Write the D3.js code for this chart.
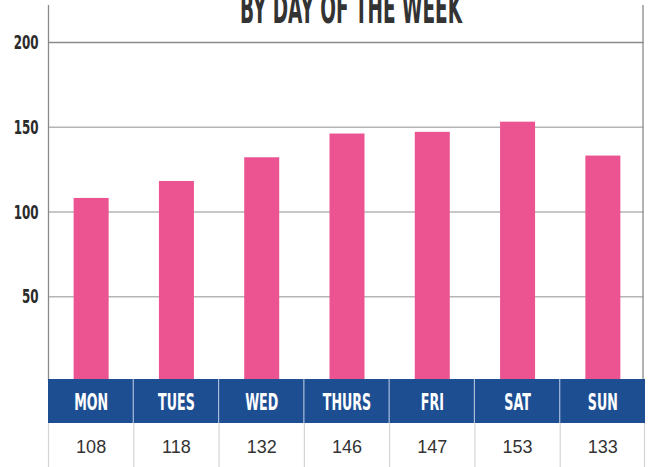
<!DOCTYPE html>
<html>
<head>
<meta charset="utf-8">
<script src="https://cdn.jsdelivr.net/npm/d3@7"></script>
<style>
  body { margin: 0; background: #fff; }
  svg { display: block; }
</style>
</head>
<body>
<script>
const days = ['MON', 'TUES', 'WED', 'THURS', 'FRI', 'SAT', 'SUN']
const values = [108, 118, 132, 146, 147, 153, 133]
const yTicks = [50, 100, 150, 200]
const title = 'BY DAY OF THE WEEK'

const width = 649
const height = 467
const left = 48
const right = 645
const plotTop = 42
const plotBottom = 381
const bandTop = 379
const bandBottom = 423

const narrow = '"Liberation Sans Narrow", "Arial Narrow", "DejaVu Sans Condensed", sans-serif'

const svg = d3.select('body').append('svg')
  .attr('width', width)
  .attr('height', height)

const xCol = d3.scaleBand()
  .domain(days)
  .range([left, right])
  .padding(0)

const yScale = d3.scaleLinear()
  .domain([0, 200])
  .range([plotBottom, plotTop])

// gridlines + tick labels
const yAxis = d3.axisLeft(yScale)
  .tickValues(yTicks)
  .tickSize(-(643 - left))
  .tickFormat(d3.format('d'))

const gy = svg.append('g')
  .attr('transform', `translate(${left + 0.5},0)`)
  .call(yAxis)
gy.select('.domain').remove()
gy.selectAll('.tick line')
  .attr('stroke', d => d === 200 ? '#8a8a8a' : '#b5b5b5')
  .attr('stroke-width', 1.3)
gy.selectAll('.tick text')
  .attr('fill', '#2b2b2b')
  .attr('font-family', narrow)
  .attr('font-weight', 'bold')
  .attr('font-size', 17)
  .attr('x', 0)
  .attr('dy', '0.36em')
  .attr('transform', 'translate(-10,0) scale(0.78,1.1)')

// frame lines
svg.append('line')
  .attr('x1', left + 0.5).attr('x2', left + 0.5)
  .attr('y1', 5).attr('y2', plotBottom)
  .attr('stroke', '#8a8a8a').attr('stroke-width', 1.3)
svg.append('line')
  .attr('x1', 643).attr('x2', 643)
  .attr('y1', 5).attr('y2', plotBottom)
  .attr('stroke', '#8a8a8a').attr('stroke-width', 1.3)

// bars
const barW = 35
svg.selectAll('rect.bar')
  .data(values)
  .enter()
  .append('rect')
  .attr('class', 'bar')
  .attr('x', (d, i) => xCol(days[i]) + (xCol.bandwidth() - barW) / 2 + 0.5)
  .attr('y', d => yScale(d))
  .attr('width', barW)
  .attr('height', d => plotBottom - yScale(d))
  .attr('fill', '#ec5391')

// blue band with day names
svg.append('rect')
  .attr('x', left)
  .attr('y', bandTop)
  .attr('width', right - left)
  .attr('height', bandBottom - bandTop)
  .attr('fill', '#1e4e92')

svg.selectAll('line.bandsep')
  .data(days.slice(1))
  .enter()
  .append('line')
  .attr('class', 'bandsep')
  .attr('x1', d => xCol(d)).attr('x2', d => xCol(d))
  .attr('y1', bandTop).attr('y2', bandBottom)
  .attr('stroke', '#a9bddb').attr('stroke-width', 1.2)

svg.selectAll('text.day')
  .data(days)
  .enter()
  .append('text')
  .attr('class', 'day')
  .attr('transform', d => `translate(${xCol(d) + xCol.bandwidth() / 2 + 0.5},${409.5}) scale(0.64,1.05)`)
  .attr('text-anchor', 'middle')
  .attr('fill', '#fff')
  .attr('font-family', narrow)
  .attr('font-weight', 'bold')
  .attr('font-size', 22)
  .text(d => d)

// value row
svg.selectAll('line.cellsep')
  .data(days.concat(['end']))
  .enter()
  .append('line')
  .attr('class', 'cellsep')
  .attr('x1', d => d === 'end' ? right - 0.5 : xCol(d) + 0.5)
  .attr('x2', d => d === 'end' ? right - 0.5 : xCol(d) + 0.5)
  .attr('y1', bandBottom).attr('y2', height)
  .attr('stroke', '#d4d4d4').attr('stroke-width', 1.2)

svg.selectAll('text.val')
  .data(values)
  .enter()
  .append('text')
  .attr('class', 'val')
  .attr('x', (d, i) => xCol(days[i]) + xCol.bandwidth() / 2 + 0.5)
  .attr('y', 453)
  .attr('text-anchor', 'middle')
  .attr('fill', '#333')
  .attr('font-family', '"Liberation Sans", Arial, sans-serif')
  .attr('font-size', 18)
  .text(d => d)

// title (top is cropped in the reference)
svg.append('text')
  .attr('x', 351)
  .attr('y', 23)
  .attr('text-anchor', 'middle')
  .attr('fill', '#333')
  .attr('font-family', narrow)
  .attr('font-weight', 'bold')
  .attr('font-size', 40)
  .attr('textLength', 222)
  .attr('lengthAdjust', 'spacingAndGlyphs')
  .text(title)
</script>
</body>
</html>
